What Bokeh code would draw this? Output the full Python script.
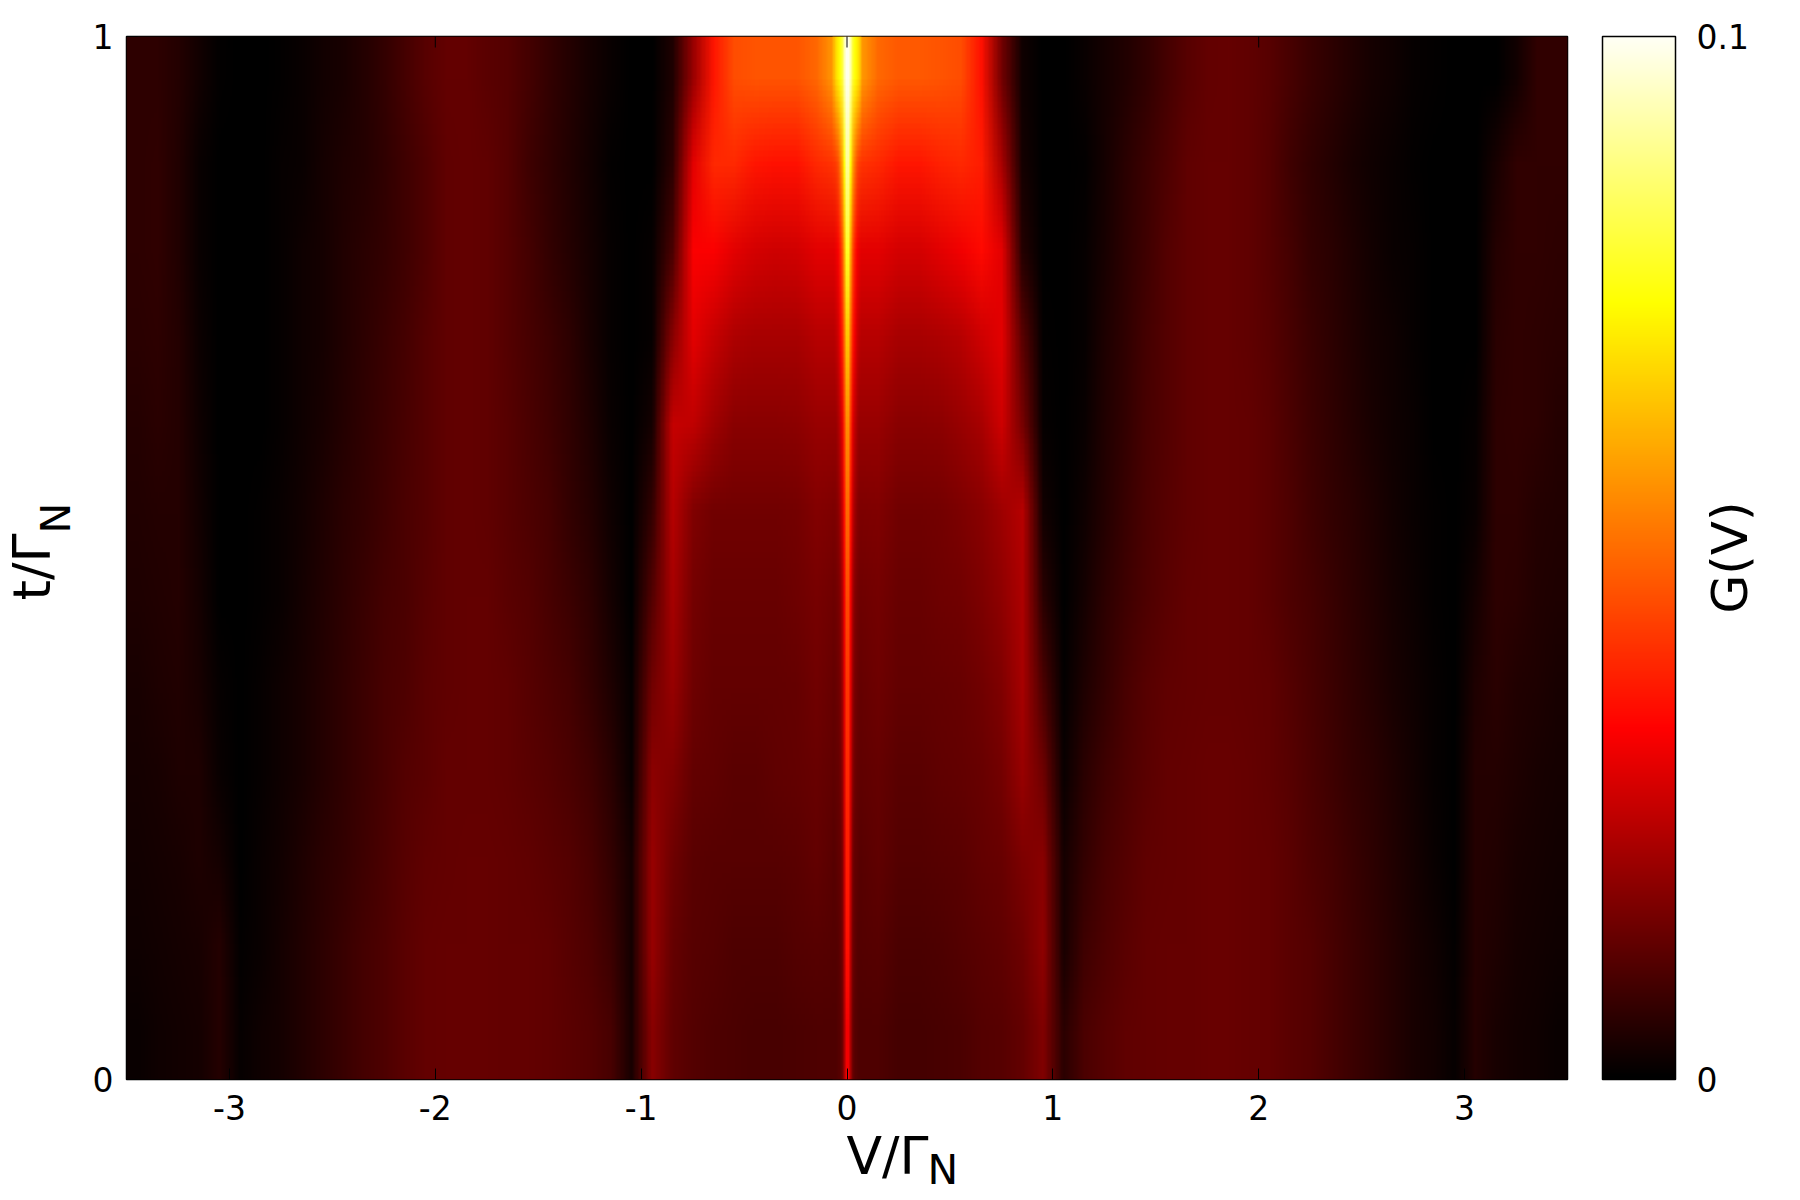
import math
import numpy as np
from bokeh.embed import file_html
from bokeh.resources import INLINE
from bokeh.plotting import figure
from bokeh.models import (ColorBar, CustomJS, FixedTicker, Label, LinearColorMapper, Range1d)
from bokeh.events import DocumentReady
from bokeh.document import Document

x_ticks = [-3, -2, -1, 0, 1, 2, 3]
y_ticks = [0, 1]
cbar_ticks = [0, 0.1]
# G(V), in units of 0.001; columns V = -3.45 ... 3.45 in steps of 0.1
t_0042 = [1.5,2,2.5,3,5,1,2,3,4.5,6,7.5,9,10.5,12,13,13.5,13.5,13.5,13,13,12.5,12,11,9.5,3.5,18,12.5,11,10.5,10,9.5,9.5,10,10.5,10.5,
          10.5,10.5,9,9,9.5,10,11,11.5,13,17,5.5,10,11.5,12.5,13,13.5,13.5,14,14,13.5,13,12,11,9.5,8,6.5,5,3.5,2.5,1,5,3.5,2.5,2,1.5]
t_0125 = [2,2.5,3,3.5,5,.5,1.5,3,4.5,6,7.5,9,10.5,12,13,13.5,13.5,13.5,13,13,12.5,11.5,10.5,8,3,20,13.5,11.5,11,10.5,10.5,10.5,11,11.5,11,
          11,11.5,10,10,10.5,11,12,12.5,14.5,19,3.5,8.5,10.5,12,13,13.5,13.5,14,14,13.5,13,12,11,9.5,8,6.5,5,3.5,2,.5,5,4,3,2.5,2]
t_0208 = [2.5,3,3.5,4,3,.3,1.2,2.5,4,5.5,7,8.5,10,11.5,12.5,13,13.5,13.5,13,12.5,12,11,9.5,7,3,20,14.5,12,11.5,11.5,11.5,11.5,12,13,11.5,
          11.5,12.5,11,11,11.5,12,13,14,16.5,18,3,7,9.5,11,12.5,13,13.5,14,14,13.5,13,12,10.5,9,7.5,6,4.5,3,1.5,.3,5,4.5,3.5,3,2.5]
t_0292 = [3,3.5,4,4,1.5,.2,1,2,3.5,5,6.5,8,9.5,11,12,13,13,13,12.5,12,11,10,8.5,5.5,1.5,18.5,17,13,12.5,12,12,12.5,13,14,12.5,
          12.5,13.5,12,12,12.5,13,14,15.5,20,14.5,1.5,5.5,8.5,10.5,12,13,13.5,14,14,13.5,12.5,11.5,10,8.5,7,5.5,4,2.5,1,.2,5,5,4,3.5,3]
t_0375 = [3.5,4,4.5,3.5,.8,0,.8,2,3.5,5,6.5,8,9.5,10.5,12,12.5,13,13,12.5,11.5,10.5,9,7,4,.8,15,20,14.5,13,13,13,13,13.5,15,13.5,
          13.5,14.5,13,13,13.5,14,15,17,22,10,.5,4,7,9.5,11.5,12.5,13,13.5,13.5,13,12.5,11,9.5,8,6.5,5,3.5,2,.8,.2,4,5.5,4.5,4,3.5]
t_0458 = [4,4.5,5,3,.3,0,.5,1.5,3,4.5,6,7.5,9,10,11.5,12.5,13,13,12,11,9.5,8,6,3,.3,11,22,15.5,14,14,14,14,14.5,16,14.5,
          14.5,15.5,14,14,14.5,15,16.5,19,23,5.5,.3,3,6,8.5,10.5,12,13,13.5,13.5,13,12,10.5,9,7.5,6,4.5,3,1.8,.6,.1,3,6,5.5,4.5,4]
t_0542 = [4.5,5,5,2.5,.2,0,.4,1.2,2.5,4,5.5,7,8.5,10,11,12.5,13,12.5,11.5,10.5,9,7,5,2,.1,7,24,17,15,15,15,15,15.5,17.5,16.5,
          16.5,17,15,15,15.5,16.5,18,21,24,2.5,.1,2,5,7.5,10,11.5,12.5,13.5,13.5,13,12,10.5,8.5,7,5.5,4,2.5,1.5,.5,0,1.5,6,6,5,4.5]
t_0625 = [5,5.5,5,2,.1,0,.3,1,2.2,3.5,5,6.5,8,9.5,11,12.5,13,12.5,11.5,10,8.5,6.5,4,1.5,0,3,26,25,21,18,18,18,18.5,20,20,
          20,20,18,18,18.5,20,22,27,16,1,0,1.5,4.5,7,9.5,11,12.5,13.5,13.5,13,12,10,8,6.5,5,3.5,2.2,1.2,.3,0,.8,6,6.5,6,5]
t_0708 = [5.5,6,5,1.8,0,0,.3,1,2,3,4.5,6,7.5,9,11,12.5,13,12.5,11,9.5,8,6,3.5,1,0,1,18,30,26,23,22,22,22,24,24,
          24,24,22,22,23,24,27,30,12,.5,0,1,4,6.5,9,11,12.5,13.5,13.5,12.5,11.5,9.5,7.5,6,4.5,3,2,1,.3,0,.3,5.5,6.5,6,5.5]
t_0792 = [6,6.5,4.5,1.5,0,0,.3,1,2,3,4.5,5.5,7,8.5,10.5,12.5,13,12.5,11,9,7,5,3,.8,0,.8,10,33,33,30,28,27,27.5,30,30,
          30,30,28,28,30,32,35,30,5,.2,0,.8,3.5,6,8.5,11,12.5,13.5,13.5,12.5,11,9,7,5.5,4,2.5,1.5,.8,.2,0,.1,5,6.5,6.5,6]
t_0875 = [6,6.5,4.5,1.2,0,0,.3,.8,1.5,2.8,4,5,6.5,8.5,10.5,12.5,13,12.5,11,8.5,6.5,4.5,2.5,.6,0,.3,6,30,40,40,37,36,36,40,42,
          42,40,37,37,39,40,38,22,3,.1,0,.6,3,5.5,8,10.5,12.5,13.5,13.5,12.5,11,8.5,6.5,5,3.5,2.2,1.2,.6,.1,0,0,3.5,6.5,6.5,6.5]
t_0958 = [6,6,5,2.5,.5,0,0,.5,1.5,2.5,3.5,5,7,9,11.5,13,13,12,11,9,7,5,3,1.5,0,0,4,20,37,46,47,47,47,50,60,
          60,50,48,48,47,46,36,15,2,0,0,1.5,3,4.5,6.5,9,11.5,13,13.5,12.5,11.5,9.5,7.5,6,4.5,3,2,1,.5,0,0,0,2.5,6.5,6.5]
field_rows = [t_0042,t_0125,t_0208,t_0292,t_0375,t_0458,t_0542,t_0625,t_0708,t_0792,t_0875,t_0958]

# central peak, |V| = 0.005 ... 0.065 in steps of 0.01, same rows, same unit
peak_0042 = [32,22,14,11.5,11,10.5,10.5]
peak_0125 = [36,24,15,12.5,11.5,11,11]
peak_0208 = [38,26,16,13,12.5,12,11.5]
peak_0292 = [40,28,18,14.5,13.5,13,12.5]
peak_0375 = [42,30,20,16,14.5,14,13.5]
peak_0458 = [45,32,22,17.5,16,15,14.5]
peak_0542 = [50,36,26,21,18,17,16.5]
peak_0625 = [56,42,30,25,22,20,20]
peak_0708 = [65,50,38,32,27,25,24]
peak_0792 = [78,60,46,38,33,31,30]
peak_0875 = [90,74,60,52,46,43,42]
peak_0958 = [99,92,80,75,72,68,62]
peak_rows = [peak_0042,peak_0125,peak_0208,peak_0292,peak_0375,peak_0458,peak_0542,peak_0625,peak_0708,peak_0792,peak_0875,peak_0958]

for r in field_rows:
    assert len(r) == 70, len(r)

def lerp(a, b, f):
    return tuple(int(round(a[i] + (b[i] - a[i]) * f)) for i in range(3))
stops = [(0.0, (0, 0, 0)), (0.335, (255, 0, 0)), (0.745, (255, 255, 0)), (1.0, (255, 255, 245))]
palette = []
for k in range(256):
    x = k / 255
    for (x0, c0), (x1, c1) in zip(stops, stops[1:]):
        if x <= x1:
            palette.append("#%02x%02x%02x" % lerp(c0, c1, (x - x0) / (x1 - x0)))
            break

mapper = LinearColorMapper(palette=palette, low=0, high=0.1)
FONT = "DejaVu Sans"

p = figure(frame_width=1441, frame_height=1043, x_range=Range1d(-3.5, 3.5), y_range=Range1d(0, 1),
           output_backend="svg", toolbar_location=None, min_border_left=126, min_border_top=36,
           min_border_bottom=113, min_border_right=225)
p.grid.visible = False
p.outline_line_color = "black"
p.outline_line_width = 1.5
p.background_fill_color = "black"

field = np.array(field_rows, dtype=float) / 1000
peak = np.array([r[::-1] + r for r in peak_rows], dtype=float) / 1000
p.image(image=[field], x=-3.5, y=0, dw=7, dh=1, color_mapper=mapper)
p.image(image=[peak], x=-0.07, y=0, dw=0.14, dh=1, color_mapper=mapper)

for ax, ticks in ((p.xaxis[0], x_ticks), (p.yaxis[0], y_ticks)):
    ax.ticker = FixedTicker(ticks=ticks)
    ax.major_label_overrides = {t: str(t) for t in ticks}
    ax.axis_line_color = None
    ax.major_tick_line_color = "black"
    ax.major_tick_line_width = 1
    ax.major_tick_in = 11
    ax.major_tick_out = 0
    ax.minor_tick_line_color = None
    ax.major_label_text_font = FONT
    ax.major_label_text_font_size = "33px"
    ax.major_label_text_color = "black"
p.xaxis[0].major_label_standoff = 15
p.yaxis[0].major_label_standoff = 13
p.yaxis[0].major_label_orientation = "horizontal"

# ticks mirrored on the top edge
p.scatter(x=x_ticks, y=[1] * len(x_ticks), marker="dash", size=22, angle=math.pi / 2, line_color="black", line_width=1)

cb = ColorBar(color_mapper=mapper, ticker=FixedTicker(ticks=cbar_ticks), major_label_overrides={0: "0", 0.1: "0.1"},
              location=(1476, 0), width=73, height=1043, padding=0, margin=0, major_tick_line_color=None,
              minor_tick_line_color=None, bar_line_color="black", bar_line_width=1.5, label_standoff=21,
              major_label_text_font=FONT, major_label_text_font_size="33px", major_label_text_color="black",
              background_fill_color=None, border_line_color=None)
p.add_layout(cb, "center")

def lab(text, x, y, size, panel, angle=0.0):
    p.add_layout(Label(text=text, x=x, y=y, x_units="screen", y_units="screen", angle=angle,
                       text_font=FONT, text_font_size=f"{size}px", text_color="black",
                       text_baseline="alphabetic", text_align="left"), panel)

lab("V/Γ", 720, 27, 52, "below")
lab("t/Γ", 2.5, 1079 - 600, 52, "left", angle=math.pi / 2)
lab("G(V)", 162, 1079 - 613, 50, "right", angle=math.pi / 2)
lab("N", -1570, 1079 - 533, 41, "right", angle=math.pi / 2)
lab("N", -746, -90, 41, "right")

# canvases otherwise enlarge the value tables in blocks; let them blend, then paint again
smooth = CustomJS(args=dict(plot=p), code="""
Object.defineProperty(CanvasRenderingContext2D.prototype,'imageSmoothingEnabled',{configurable:true,get(){return true},set(v){}});
plot.change.emit();
setTimeout(()=>plot.change.emit(),100);
""")
doc = Document()
doc.add_root(p)
doc.js_on_event(DocumentReady, smooth)
open("out.html", "w").write(file_html(doc, INLINE))
